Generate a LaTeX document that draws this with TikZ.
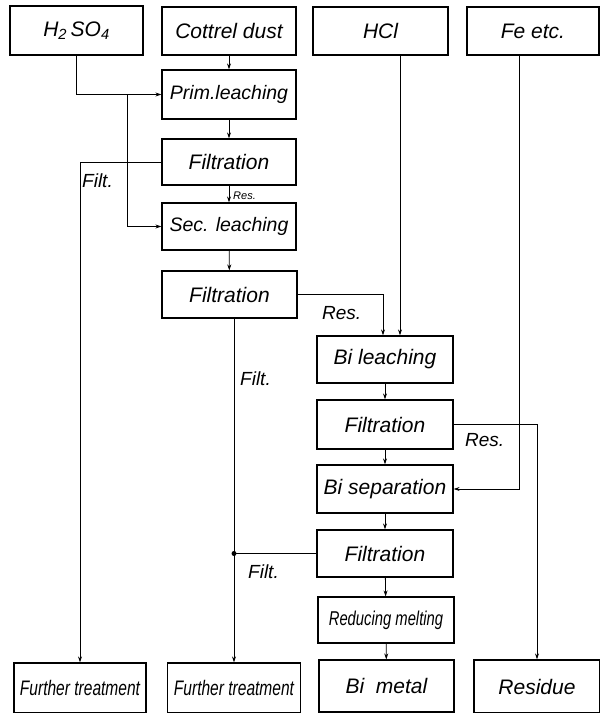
\documentclass[tikz,border=0pt]{standalone}
\usepackage{fontspec}
\setmainfont{Liberation Sans}
\newfontfamily\condfont[FakeStretch=0.74]{Liberation Sans}
\usetikzlibrary{arrows.meta}
\begin{document}
\begin{tikzpicture}[x=1pt,y=-1pt,
  box/.style={draw, line width=1.2pt, inner sep=0pt, font=\fontsize{21}{24}\selectfont\itshape},
  tightbox/.style={box, font=\fontsize{19.5}{24}\selectfont\itshape},
  condbox/.style={box, font=\condfont\fontsize{21}{24}\selectfont\itshape},
  arr/.style={line width=0.8pt, -{Stealth[length=6pt,width=4pt]}},
  ln/.style={line width=0.8pt},
  lbl/.style={inner sep=0pt, font=\fontsize{19}{22}\selectfont\itshape},
  small/.style={inner sep=0pt, font=\fontsize{11}{13}\selectfont\itshape}]
\useasboundingbox (0,0) rectangle (600,713);
\fill[white] (0,0) rectangle (600,713);
% top row
\node[box, minimum width=133pt, minimum height=49pt] (h2so4) at (76.5,30.5) {H\textsubscript{2}\,SO\textsubscript{4}};
\node[box, minimum width=134pt, minimum height=48pt] (cottrel) at (229,31) {Cottrel dust};
\node[box, minimum width=135pt, minimum height=48pt] (hcl) at (380.5,31) {HCl};
\node[box, minimum width=132pt, minimum height=48pt] (fe) at (533,31) {Fe etc.};
% column 2
\node[tightbox, minimum width=134pt, minimum height=49pt] (prim) at (229,94.5) {Prim.leaching};
\node[box, minimum width=134pt, minimum height=46pt] (filt1) at (229,162) {Filtration};
\node[tightbox, minimum width=134pt, minimum height=47pt] (sec) at (229,226.5) {Sec. leaching};
\node[box, minimum width=135pt, minimum height=47pt] (filt2) at (229.5,294.5) {Filtration};
% column 3
\node[box, minimum width=136pt, minimum height=47pt] (bileach) at (385,359.5) {Bi leaching};
\node[box, minimum width=136pt, minimum height=49pt] (filt3) at (385,424.5) {Filtration};
\node[box, minimum width=136pt, minimum height=48pt] (bisep) at (385,489) {Bi separation};
\node[box, minimum width=136pt, minimum height=47pt] (filt4) at (385,553.5) {Filtration};
\node[condbox, minimum width=136pt, minimum height=46pt, font=\condfont\fontsize{20}{24}\selectfont\itshape] (redmelt) at (386,620) {Reducing melting};
% bottom row
\node[condbox, minimum width=132pt, minimum height=50pt] (ft1) at (80,688) {Further treatment};
\node[condbox, minimum width=133pt, minimum height=50pt] (ft2) at (234,688) {Further treatment};
\node[box, minimum width=135pt, minimum height=52pt] (bimetal) at (386.5,686) {Bi\ \ metal};
\node[box, minimum width=126pt, minimum height=53pt] (residue) at (537,686.5) {Residue};
% helper coordinates
\coordinate (br) at (127,0);
\coordinate (hclx) at ([xshift=19.5pt]hcl.south);
\coordinate (fex) at ([xshift=-14pt]fe.south);
% connectors, left part
\draw[arr] (h2so4.south) |- (prim.west);
\draw[arr] (br |- prim.west) |- (sec.west);
\draw[arr] (cottrel) -- (prim);
\draw[arr] (prim) -- (filt1);
\draw[arr] (filt1) -- (sec);
\draw[arr] (filt1.west) -| (ft1.north);
\draw[arr] (sec) -- (filt2);
\draw[arr] (filt2.east) -| ([xshift=-2pt]bileach.north);
\draw[arr] (ft2.north |- filt2.south) -- (ft2.north);
% right part
\draw[arr] (hclx) -- (hclx |- bileach.north);
\draw[arr] (fex) |- (bisep.east);
\draw[arr] (bileach) -- (filt3);
\draw[arr] (filt3.east) -| (residue.north);
\draw[arr] (filt3) -- (bisep);
\draw[arr] (bisep) -- (filt4);
\draw[arr] (filt4) -- (redmelt);
\draw[arr] (redmelt) -- (bimetal);
\draw[ln] (filt4.west) -- (filt4.west -| ft2.north) node[circle, fill, inner sep=0pt, minimum size=5pt] (dot) {};
% labels
\node[lbl, anchor=west] (lf1) at (82,181) {Filt.};
\node[small, anchor=west] (lr1) at (233,195.5) {Res.};
\node[lbl, anchor=west] (lr2) at (322,313) {Res.};
\node[lbl, anchor=west] (lf2) at (240,379) {Filt.};
\node[lbl, anchor=west] (lr3) at (465,440) {Res.};
\node[lbl, anchor=west] (lf3) at (248,572) {Filt.};
\end{tikzpicture}
\end{document}
